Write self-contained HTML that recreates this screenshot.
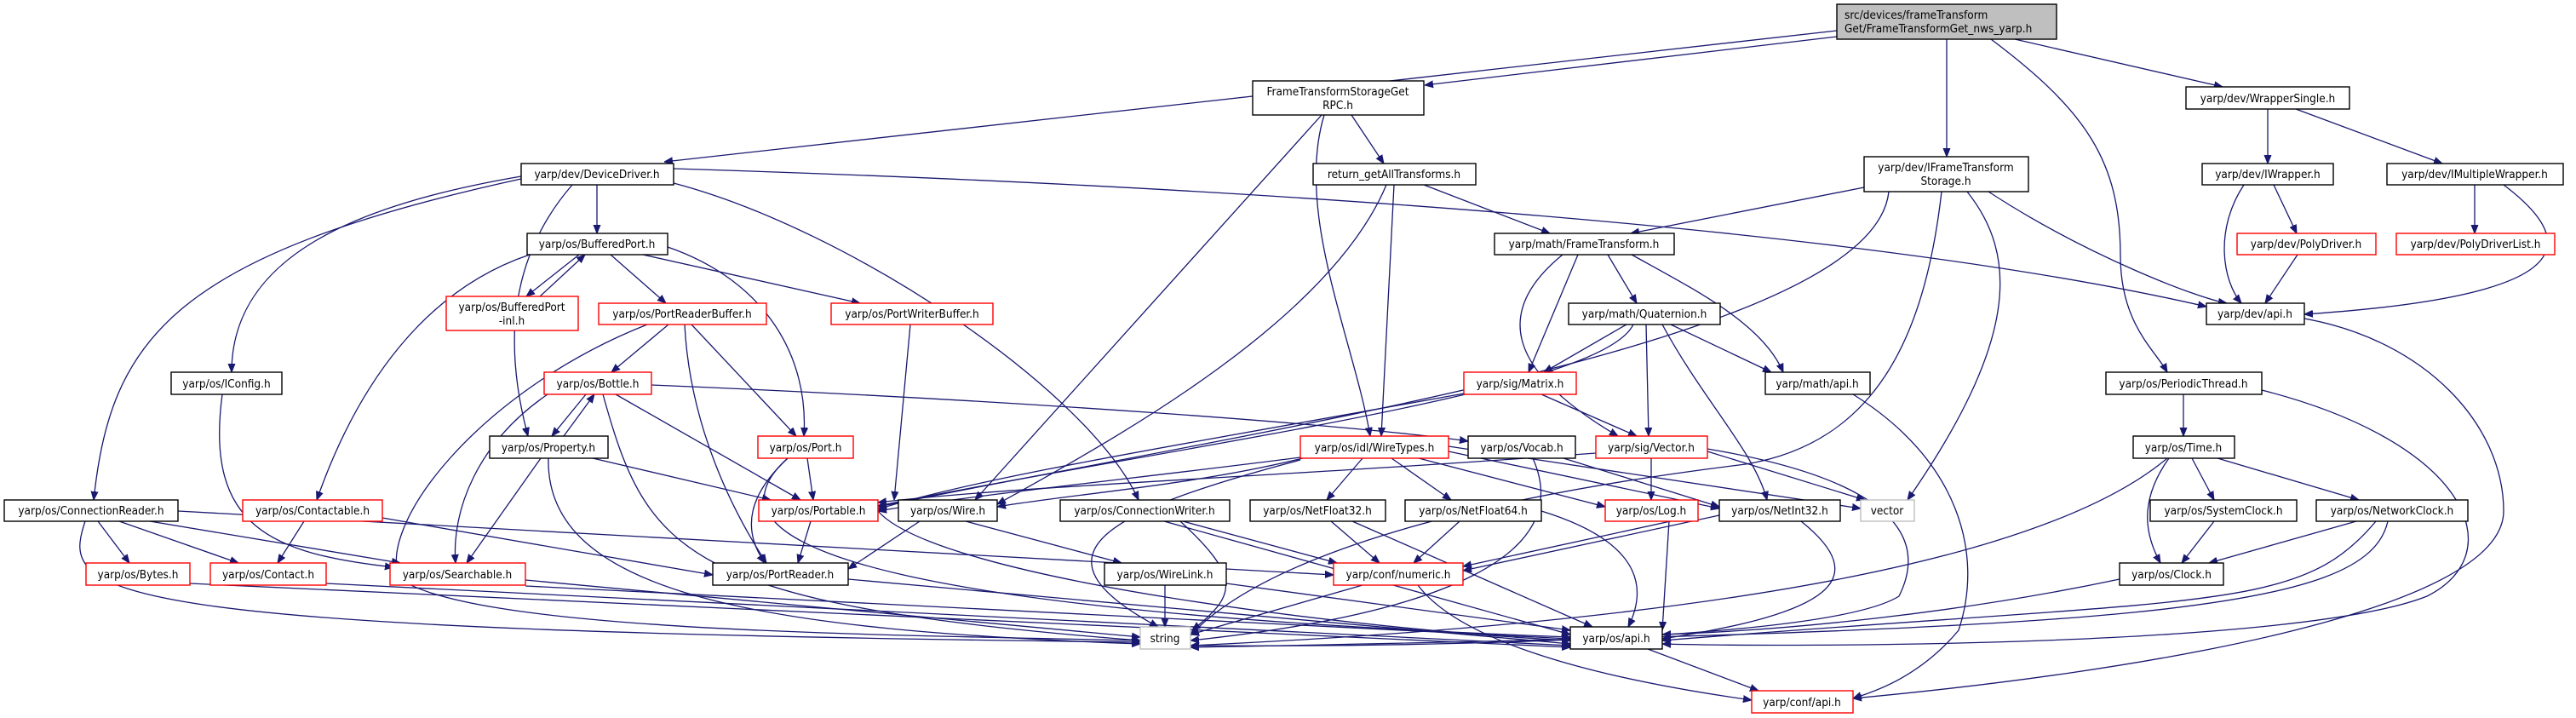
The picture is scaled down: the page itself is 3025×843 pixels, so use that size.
<!DOCTYPE html>
<html><head><meta charset="utf-8"><style>
html,body{margin:0;padding:0;background:#fff;width:3025px;height:843px;overflow:hidden}
svg{display:block}
text{font-family:"DejaVu Sans Condensed","DejaVu Sans","Liberation Sans",sans-serif;font-size:13.5px;fill:#000;text-anchor:middle}
.e{fill:none;stroke:#191970;stroke-width:1.3}
.b{fill:#fff;stroke:#000;stroke-width:1.4}
.r{fill:#fff;stroke:#ff0000;stroke-width:1.4}
.g{fill:#fff;stroke:#bfbfbf;stroke-width:1.4}
</style></head><body>
<svg width="3025" height="843" viewBox="0 0 3025 843" xmlns="http://www.w3.org/2000/svg">
<defs><marker id="a" viewBox="0 0 10 10" refX="10" refY="5" markerWidth="10" markerHeight="10" markerUnits="userSpaceOnUse" orient="auto"><path d="M0,1 L10,5 L0,9 z" fill="#191970" stroke="#191970"/></marker></defs>
<g marker-end="url(#a)">
<!-- main -->
<path class="e" d="M2157,36 C1700,90 1100,150 780,190"/>
<path class="e" d="M2157,43 L1673,100"/>
<path class="e" d="M2286,46 L2286,184"/>
<path class="e" d="M2366,46 L2610,102"/>
<path class="e" d="M2338,46 C2450,130 2490,190 2490,300 C2490,380 2530,410 2545,437"/>
<path class="e" d="M2663,128 L2663,192"/>
<path class="e" d="M2696,128 L2868,192"/>
<path class="e" d="M2635,217 C2600,270 2610,330 2632,356"/>
<path class="e" d="M2670,217 L2697,274"/>
<path class="e" d="M2698,299 L2660,356"/>
<path class="e" d="M2906,217 L2906,274"/>
<path class="e" d="M2940,217 C3050,300 2990,350 2706,369"/>
<path class="e" d="M2706,374 C2850,400 2940,500 2940,600 C2940,720 2500,790 2176,820"/>
<!-- IFTS -->
<path class="e" d="M2189,220 L1915,274"/>
<path class="e" d="M2335,225 C2450,300 2580,350 2615,356"/>
<path class="e" d="M2310,225 C2370,300 2370,400 2240,587"/>
<path class="e" d="M2280,225 C2260,400 2200,520 2050,545 C1600,600 1450,690 1398,746"/>
<path class="e" d="M2218,225 C2200,400 1500,500 1031,595"/>
<!-- RPC -->
<path class="e" d="M1587,135 L1625,192"/>
<path class="e" d="M1555,135 C1520,250 1590,400 1609,512"/>
<path class="e" d="M1552,135 L1145,587"/>
<!-- return -->
<path class="e" d="M1672,217 L1820,274"/>
<path class="e" d="M1637,217 L1622,512"/>
<path class="e" d="M1628,217 C1560,380 1300,520 1171,592"/>
<!-- DD -->
<path class="e" d="M701,217 L701,274"/>
<path class="e" d="M612,207 C420,240 272,300 272,437"/>
<path class="e" d="M612,210 C200,300 130,400 110,587"/>
<path class="e" d="M672,217 C600,300 590,400 620,512"/>
<path class="e" d="M791,215 C1000,270 1280,460 1337,587"/>
<path class="e" d="M791,198 C1500,220 2200,270 2591,360"/>
<!-- BufferedPort -->
<path class="e" d="M680,299 L618,348"/>
<path class="e" d="M634,348 L687,299"/>
<path class="e" d="M717,299 L782,356"/>
<path class="e" d="M755,299 L1010,356"/>
<path class="e" d="M784,290 C900,330 950,420 944,512"/>
<path class="e" d="M622,299 C500,340 420,450 372,587"/>
<!-- PRB -->
<path class="e" d="M785,381 L718,437"/>
<path class="e" d="M812,381 L935,512"/>
<path class="e" d="M804,381 C810,500 860,600 900,661"/>
<path class="e" d="M760,381 C560,460 440,620 470,680 C560,740 1000,745 1339,752"/>
<path class="e" d="M1069,381 L1050,587"/>
<!-- Bottle -->
<path class="e" d="M688,463 L648,512"/>
<path class="e" d="M662,512 L698,463"/>
<path class="e" d="M643,463 C560,520 530,600 535,661"/>
<path class="e" d="M723,463 L940,587"/>
<path class="e" d="M765,452 C1200,470 1600,500 1724,518"/>
<path class="e" d="M708,463 C760,650 800,710 1339,752"/>
<!-- Property -->
<path class="e" d="M635,538 L548,661"/>
<path class="e" d="M696,538 L905,587"/>
<path class="e" d="M644,538 C640,700 900,740 1339,756"/>
<!-- Port -->
<path class="e" d="M948,538 L955,587"/>
<path class="e" d="M925,538 C880,580 870,620 898,661"/>
<path class="e" d="M925,538 C800,650 1100,720 1844,748"/>
<!-- IConfig etc -->
<path class="e" d="M261,463 C240,620 320,650 462,666"/>
<path class="e" d="M115,612 L152,661"/>
<path class="e" d="M140,612 L280,661"/>
<path class="e" d="M176,612 L470,661"/>
<path class="e" d="M209,600 C800,630 1300,660 1566,675"/>
<path class="e" d="M100,612 C70,700 100,740 1339,754"/>
<path class="e" d="M357,612 L326,661"/>
<path class="e" d="M449,608 L837,675"/>
<path class="e" d="M952,612 L937,661"/>
<path class="e" d="M1031,600 C1100,680 1600,740 1844,752"/>
<path class="e" d="M996,680 L1844,756"/>
<path class="e" d="M617,681 L1339,748"/>
<path class="e" d="M617,688 L1844,750"/>
<path class="e" d="M383,685 L1844,758"/>
<path class="e" d="M223,685 L1844,760"/>
<!-- math -->
<path class="e" d="M1888,299 L1922,356"/>
<path class="e" d="M1853,299 L1795,437"/>
<path class="e" d="M1916,299 C1990,340 2070,380 2094,437"/>
<path class="e" d="M1835,299 C1760,360 1760,430 1900,512"/>
<path class="e" d="M1910,381 L1813,437"/>
<path class="e" d="M1933,381 L1936,512"/>
<path class="e" d="M1962,381 L2080,437"/>
<path class="e" d="M1952,381 C2000,470 2060,530 2075,587"/>
<path class="e" d="M1918,381 C1880,460 1400,520 1031,594"/>
<path class="e" d="M1810,463 L1922,512"/>
<path class="e" d="M1719,462 C1400,520 1150,560 1031,598"/>
<path class="e" d="M2176,463 C2300,540 2330,650 2300,740 C2250,800 2190,815 2176,820"/>
<!-- WireTypes -->
<path class="e" d="M1527,537 C1350,560 1150,580 1031,600"/>
<path class="e" d="M1530,538 C1400,570 1260,580 1171,595"/>
<path class="e" d="M1600,538 L1558,587"/>
<path class="e" d="M1634,538 L1704,587"/>
<path class="e" d="M1701,530 L2019,597"/>
<path class="e" d="M1666,538 L1885,595"/>
<path class="e" d="M1701,524 L2185,597"/>
<path class="e" d="M1527,540 C1300,600 1200,650 1360,736"/>
<!-- Vocab / Vector -->
<path class="e" d="M1836,538 L2019,595"/>
<path class="e" d="M1800,538 C1850,650 1700,720 1398,752"/>
<path class="e" d="M1939,538 L1939,587"/>
<path class="e" d="M2005,527 C2200,560 2270,620 2230,700 C2150,750 1700,760 1398,758"/>
<path class="e" d="M2005,530 L2190,587"/>
<path class="e" d="M1874,532 C1500,560 1200,570 1031,590"/>
<!-- row 3 -->
<path class="e" d="M1134,612 L1317,661"/>
<path class="e" d="M1080,612 L996,668"/>
<path class="e" d="M1368,687 L1368,736"/>
<path class="e" d="M1440,685 L1844,740"/>
<path class="e" d="M1389,612 L1570,661"/>
<path class="e" d="M1367,612 L1844,745"/>
<path class="e" d="M1386,612 C1460,680 1450,700 1400,740"/>
<path class="e" d="M1563,612 L1620,661"/>
<path class="e" d="M1588,612 L1870,736"/>
<path class="e" d="M1714,612 L1660,661"/>
<path class="e" d="M1810,600 C1940,640 1930,700 1912,736"/>
<path class="e" d="M1994,605 L1718,665"/>
<path class="e" d="M1960,612 L1952,740"/>
<path class="e" d="M2019,605 L1718,670"/>
<path class="e" d="M2115,612 C2200,680 2150,720 1952,750"/>
<path class="e" d="M1600,687 L1398,745"/>
<path class="e" d="M1665,687 C1720,760 1900,800 2057,822"/>
<path class="e" d="M1935,762 L2065,811"/>
<!-- time -->
<path class="e" d="M2564,463 L2564,512"/>
<path class="e" d="M2656,458 C2900,520 2950,650 2850,700 C2700,760 2100,760 1952,756"/>
<path class="e" d="M2574,538 L2600,587"/>
<path class="e" d="M2604,538 L2770,587"/>
<path class="e" d="M2547,538 C2510,590 2520,630 2537,661"/>
<path class="e" d="M2545,538 C2400,660 2000,730 1398,758"/>
<path class="e" d="M2600,612 L2562,661"/>
<path class="e" d="M2767,612 L2594,661"/>
<path class="e" d="M2790,612 C2700,720 2600,700 1952,752"/>
<path class="e" d="M2804,612 C2780,720 2500,740 1398,760"/>
<path class="e" d="M2489,680 C2300,720 2100,740 1952,745"/>
</g>
<!-- nodes -->
<rect x="2157" y="5" width="258" height="41" fill="#bfbfbf" stroke="#000" stroke-width="1.4"/>
<text x="2166" y="22" style="text-anchor:start">src/devices/frameTransform</text>
<text x="2166" y="38" style="text-anchor:start">Get/FrameTransformGet_nws_yarp.h</text>
<rect class="b" x="1471" y="95" width="201" height="40"/><text x="1571" y="112">FrameTransformStorageGet</text><text x="1571" y="128">RPC.h</text>
<rect class="b" x="2189" y="184" width="193" height="41"/><text x="2285" y="201">yarp/dev/IFrameTransform</text><text x="2285" y="217">Storage.h</text>
<rect class="b" x="2567" y="102" width="192" height="26"/><text x="2663" y="120">yarp/dev/WrapperSingle.h</text>
<rect class="b" x="612" y="192" width="179" height="25"/><text x="701" y="209">yarp/dev/DeviceDriver.h</text>
<rect class="b" x="1542" y="192" width="191" height="25"/><text x="1637" y="209">return_getAllTransforms.h</text>
<rect class="b" x="2586" y="192" width="154" height="25"/><text x="2663" y="209">yarp/dev/IWrapper.h</text>
<rect class="b" x="2803" y="192" width="207" height="25"/><text x="2906" y="209">yarp/dev/IMultipleWrapper.h</text>
<rect class="b" x="619" y="274" width="165" height="25"/><text x="701" y="291">yarp/os/BufferedPort.h</text>
<rect class="b" x="1755" y="274" width="211" height="25"/><text x="1860" y="291">yarp/math/FrameTransform.h</text>
<rect class="r" x="2627" y="274" width="163" height="25"/><text x="2708" y="291">yarp/dev/PolyDriver.h</text>
<rect class="r" x="2814" y="274" width="186" height="25"/><text x="2907" y="291">yarp/dev/PolyDriverList.h</text>
<rect class="r" x="524" y="348" width="155" height="40"/><text x="601" y="365">yarp/os/BufferedPort</text><text x="601" y="381">-inl.h</text>
<rect class="r" x="703" y="356" width="197" height="25"/><text x="801" y="373">yarp/os/PortReaderBuffer.h</text>
<rect class="r" x="976" y="356" width="190" height="25"/><text x="1071" y="373">yarp/os/PortWriterBuffer.h</text>
<rect class="b" x="1842" y="356" width="178" height="25"/><text x="1931" y="373">yarp/math/Quaternion.h</text>
<rect class="b" x="2591" y="356" width="115" height="25"/><text x="2648" y="373">yarp/dev/api.h</text>
<rect class="b" x="201" y="437" width="130" height="26"/><text x="266" y="455">yarp/os/IConfig.h</text>
<rect class="r" x="639" y="437" width="126" height="26"/><text x="702" y="455">yarp/os/Bottle.h</text>
<rect class="r" x="1719" y="437" width="132" height="26"/><text x="1785" y="455">yarp/sig/Matrix.h</text>
<rect class="b" x="2073" y="437" width="123" height="26"/><text x="2134" y="455">yarp/math/api.h</text>
<rect class="b" x="2473" y="437" width="183" height="26"/><text x="2564" y="455">yarp/os/PeriodicThread.h</text>
<rect class="b" x="575" y="512" width="139" height="26"/><text x="644" y="530">yarp/os/Property.h</text>
<rect class="r" x="890" y="512" width="112" height="26"/><text x="946" y="530">yarp/os/Port.h</text>
<rect class="r" x="1527" y="512" width="174" height="26"/><text x="1614" y="530">yarp/os/idl/WireTypes.h</text>
<rect class="b" x="1724" y="512" width="126" height="26"/><text x="1787" y="530">yarp/os/Vocab.h</text>
<rect class="r" x="1874" y="512" width="131" height="26"/><text x="1939" y="530">yarp/sig/Vector.h</text>
<rect class="b" x="2505" y="512" width="119" height="26"/><text x="2564" y="530">yarp/os/Time.h</text>
<rect class="b" x="5" y="587" width="204" height="25"/><text x="107" y="604">yarp/os/ConnectionReader.h</text>
<rect class="r" x="285" y="587" width="164" height="25"/><text x="367" y="604">yarp/os/Contactable.h</text>
<rect class="r" x="891" y="587" width="140" height="25"/><text x="961" y="604">yarp/os/Portable.h</text>
<rect class="b" x="1055" y="587" width="116" height="25"/><text x="1113" y="604">yarp/os/Wire.h</text>
<rect class="b" x="1245" y="587" width="199" height="25"/><text x="1344" y="604">yarp/os/ConnectionWriter.h</text>
<rect class="b" x="1468" y="587" width="159" height="25"/><text x="1547" y="604">yarp/os/NetFloat32.h</text>
<rect class="b" x="1650" y="587" width="160" height="25"/><text x="1730" y="604">yarp/os/NetFloat64.h</text>
<rect class="r" x="1885" y="587" width="109" height="25"/><text x="1939" y="604">yarp/os/Log.h</text>
<rect class="b" x="2019" y="587" width="142" height="25"/><text x="2090" y="604">yarp/os/NetInt32.h</text>
<rect class="g" x="2185" y="587" width="63" height="25"/><text x="2216" y="604">vector</text>
<rect class="b" x="2525" y="587" width="172" height="25"/><text x="2611" y="604">yarp/os/SystemClock.h</text>
<rect class="b" x="2720" y="587" width="178" height="25"/><text x="2809" y="604">yarp/os/NetworkClock.h</text>
<rect class="r" x="101" y="661" width="122" height="26"/><text x="162" y="679">yarp/os/Bytes.h</text>
<rect class="r" x="247" y="661" width="136" height="26"/><text x="315" y="679">yarp/os/Contact.h</text>
<rect class="r" x="458" y="661" width="159" height="26"/><text x="537" y="679">yarp/os/Searchable.h</text>
<rect class="b" x="837" y="661" width="159" height="26"/><text x="916" y="679">yarp/os/PortReader.h</text>
<rect class="b" x="1297" y="661" width="143" height="26"/><text x="1368" y="679">yarp/os/WireLink.h</text>
<rect class="r" x="1566" y="661" width="152" height="26"/><text x="1642" y="679">yarp/conf/numeric.h</text>
<rect class="b" x="2489" y="661" width="122" height="26"/><text x="2550" y="679">yarp/os/Clock.h</text>
<rect class="g" x="1339" y="736" width="59" height="26"/><text x="1368" y="754">string</text>
<rect class="b" x="1844" y="736" width="108" height="26"/><text x="1898" y="754">yarp/os/api.h</text>
<rect class="r" x="2057" y="811" width="119" height="26"/><text x="2116" y="829">yarp/conf/api.h</text>
</svg>
</body></html>
